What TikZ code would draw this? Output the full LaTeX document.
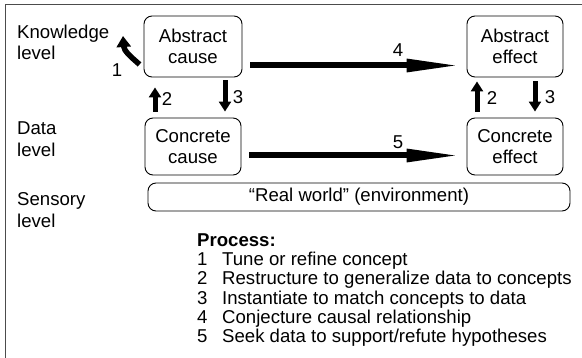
\documentclass[tikz,border=0pt]{standalone}
\usepackage{fontspec}
\setmainfont{Liberation Sans}
\usetikzlibrary{arrows.meta,calc}

\begin{document}
\begin{tikzpicture}[x=1pt,y=-1pt,
  every node/.style={font=\fontsize{18.6}{21.5}\selectfont},
  concept/.style={draw, rounded corners=8pt, line width=0.9pt, align=center, inner sep=0pt},
  levellabel/.style={align=left, anchor=north west, inner sep=0pt},
  num/.style={inner sep=0pt},
  bigarrow/.style={line width=6pt, -{Triangle[length=55pt,width=12pt]}},
  smallarrow/.style={line width=5pt, -{Triangle[length=10pt,width=12pt]}},
]
\useasboundingbox (0,0) rectangle (582,358);

% frame
\draw[line width=1.5pt, color=black!70] (5.5,360) -- (5.5,4.5) -- (584,4.5);

% level labels
\node[levellabel] (lk) at (17,24.5) {Knowledge\\level};
\node[levellabel] (ld) at (17,122) {Data\\level};
\node[levellabel] (ls) at (17,192.5) {Sensory\\level};

% concept boxes
\node[concept, minimum width=98pt, minimum height=61pt] (ac) at (193,46.5) {Abstract\\cause};
\node[concept, minimum width=96pt, minimum height=57pt] (cc) at (193,146.5) {Concrete\\cause};
\node[concept, minimum width=96pt, minimum height=61pt] (ae) at (515,46.5) {Abstract\\effect};
\node[concept, minimum width=96pt, minimum height=57pt] (ce) at (515,146.5) {Concrete\\effect};
\node[concept, minimum width=422pt, minimum height=28pt] (rw) at (359,197) {“Real world” (environment)};

% horizontal arrows
\draw[bigarrow, shorten <=8pt, shorten >=5pt] ($(ac.east)+(0,19)$) -- ($(ae.west)+(0,19)$);
\draw[bigarrow, shorten <=8pt, shorten >=5pt] ($(cc.east)+(0,9)$) -- ($(ce.west)+(0,9)$);
\node[num] (n4) at (398,50) {4};
\node[num] (n5) at (398,142) {5};

% vertical arrows, cause side
\draw[smallarrow, shorten <=6pt, shorten >=10pt] ($(cc.north)+(-38,0)$) -- ($(ac.south)+(-38,0)$);
\draw[smallarrow, shorten <=3pt, shorten >=6pt] ($(ac.south)+(32,0)$) -- ($(cc.north)+(32,0)$);
\node[num] (n2a) at (167,99) {2};
\node[num] (n3a) at (238,97) {3};

% vertical arrows, effect side
\draw[smallarrow, shorten <=6pt, shorten >=4pt] ($(ce.north)+(-38,0)$) -- ($(ae.south)+(-38,0)$);
\draw[smallarrow, shorten <=4pt, shorten >=6pt] ($(ae.south)+(20,0)$) -- ($(ce.north)+(20,0)$);
\node[num] (n2b) at (492,98) {2};
\node[num] (n3b) at (550,97) {3};

% refinement arrow
\coordinate (t1) at ($(ac.south west)+(-4,-13)$);
\draw[line width=5.5pt, -{Triangle[length=11pt,width=14pt]}] (t1) .. controls (131,57) and (124,51) .. (123,36);
\node[num] (n1) at (117,70) {1};

% process legend
\node[levellabel, font=\fontsize{18.6}{19.2}\selectfont] (proc) at (197,233.5) {\textbf{Process:}\\
\makebox[25pt][l]{1}Tune or refine concept\\
\makebox[25pt][l]{2}Restructure to generalize data to concepts\\
\makebox[25pt][l]{3}Instantiate to match concepts to data\\
\makebox[25pt][l]{4}Conjecture causal relationship\\
\makebox[25pt][l]{5}Seek data to support/refute hypotheses};
\end{tikzpicture}
\end{document}
